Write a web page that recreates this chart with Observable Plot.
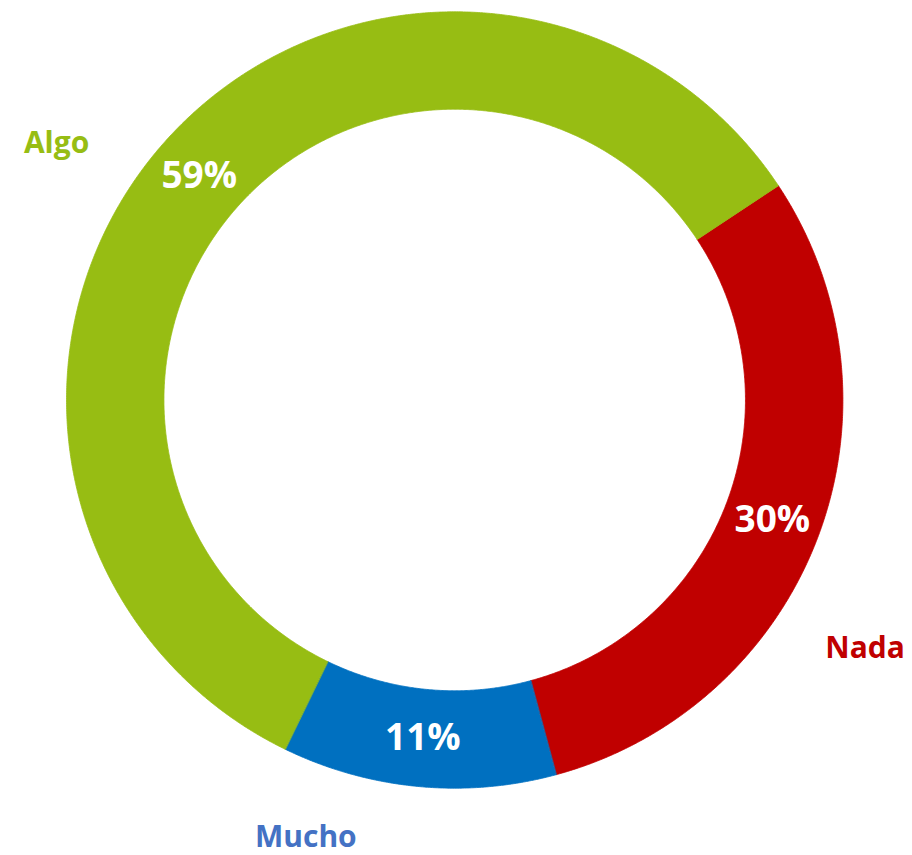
<!DOCTYPE html>
<html>
<head>
<meta charset="utf-8">
<script src="https://cdn.jsdelivr.net/npm/d3@7"></script>
<script src="https://cdn.jsdelivr.net/npm/@observablehq/plot@0.6"></script>
<style>
  html, body { margin: 0; padding: 0; background: #ffffff; }
  #chart svg { display: block; }
</style>
</head>
<body>
<div id="chart"></div>
<script>
// ---- Data ----
const categories = ["Nada", "Mucho", "Algo"];
const shares = [30.1, 11.4, 58.5];          // percent of total
const sliceColors = ["#C00000", "#0070C0", "#97BD13"];
const nameColors = ["#C00000", "#4472C4", "#97BD13"];

// ---- Layout ----
const W = 912, H = 855;
const cx = 454.2, cy = 399.5, R = 388.2;   // ring centre and outer radius in px
const innerRatio = 0.749;                  // donut hole
const firstSliceAngle = 56.5;              // degrees clockwise from 12 o'clock
// category-name label placement: [angle in degrees, radius as multiple of outer radius]
const namePlacement = { Algo: [302.8, 1.220], Nada: [121.2, 1.236], Mucho: [198.8, 1.190] };
const font = "'Open Sans', 'Noto Sans', sans-serif";

// ---- Derived tables ----
const rows = categories.map((c, i) => ({ cat: c, share: shares[i], color: sliceColors[i], nameColor: nameColors[i] }));
const a0 = firstSliceAngle * Math.PI / 180;
const arcs = d3.pie().sort(null).value(d => d.share).startAngle(a0).endAngle(a0 + 2 * Math.PI)(rows);

const ring = [];
for (const arc of arcs) {
  const n = Math.max(2, Math.ceil((arc.endAngle - arc.startAngle) / (Math.PI / 720)));
  for (let i = 0; i <= n; i++) {
    const a = arc.startAngle + (arc.endAngle - arc.startAngle) * i / n;
    ring.push({ cat: arc.data.cat, color: arc.data.color, x: Math.sin(a), y: Math.cos(a) });
  }
  for (let i = n; i >= 0; i--) {
    const a = arc.startAngle + (arc.endAngle - arc.startAngle) * i / n;
    ring.push({ cat: arc.data.cat, color: arc.data.color, x: innerRatio * Math.sin(a), y: innerRatio * Math.cos(a) });
  }
}

const midR = (1 + innerRatio) / 2;
const pctLabels = arcs.map(arc => {
  const a = (arc.startAngle + arc.endAngle) / 2;
  return { cat: arc.data.cat, text: Math.round(arc.data.share) + "%", x: midR * Math.sin(a), y: midR * Math.cos(a) };
});
const nameLabels = rows.map(d => {
  const [deg, rf] = namePlacement[d.cat];
  const a = deg * Math.PI / 180;
  return { cat: d.cat, color: d.nameColor, x: rf * Math.sin(a), y: rf * Math.cos(a) };
});

const chart = Plot.plot({
  width: W,
  height: H,
  margin: 0,
  x: { domain: [-cx / R, (W - cx) / R], axis: null },
  y: { domain: [-(H - cy) / R, cy / R], axis: null },
  color: { type: "identity" },
  style: { fontFamily: font, background: "#ffffff" },
  marks: [
    Plot.line(ring, { x: "x", y: "y", z: "cat", fill: "color", stroke: "color", strokeWidth: 0.8, curve: "linear-closed" }),
    Plot.text(pctLabels, { x: "x", y: "y", text: "text", fill: "#ffffff", fontSize: 37, fontWeight: "bold" }),
    Plot.text(nameLabels, { x: "x", y: "y", text: "cat", fill: "color", fontSize: 30, fontWeight: "bold" })
  ]
});
document.getElementById("chart").append(chart);
</script>
</body>
</html>
